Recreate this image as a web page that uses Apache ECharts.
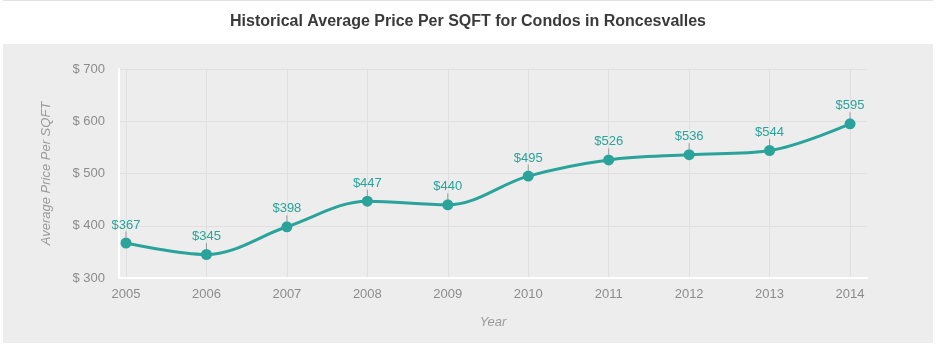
<!DOCTYPE html>
<html>
<head>
<meta charset="utf-8">
<script src="https://cdn.jsdelivr.net/npm/echarts@6/dist/echarts.min.js"></script>
<style>
  html, body { margin: 0; padding: 0; background: #fff; }
  #chart { width: 936px; height: 347px; }
</style>
</head>
<body>
<div id="chart"></div>
<script>
// Average price per square foot, condos in Roncesvalles
const years = [2005, 2006, 2007, 2008, 2009, 2010, 2011, 2012, 2013, 2014];
const prices = [367, 345, 398, 447, 440, 495, 526, 536, 544, 595];
const priceTicks = [300, 400, 500, 600, 700];

const teal = '#2aa39a';
const axisText = '#8c8c8c';
const font = '"Liberation Sans", Arial, Helvetica, sans-serif';

const chart = echarts.init(document.getElementById('chart'), null, { renderer: 'canvas' });

chart.setOption({
  backgroundColor: '#ffffff',
  animation: false,
  title: {
    text: 'Historical Average Price Per SQFT for Condos in Roncesvalles',
    left: 'center',
    top: 9,
    textStyle: { fontFamily: font, fontSize: 16, fontWeight: 'bold', color: '#3a3a3a' }
  },
  graphic: [
    { type: 'rect', z: -10, silent: true, shape: { x: 3, y: 44, width: 930, height: 299 }, style: { fill: '#ededed' } },
    { type: 'rect', z: -10, silent: true, shape: { x: 3, y: 0, width: 930, height: 1 }, style: { fill: '#e2e2e2' } }
  ],
  grid: { left: 119, right: 69, top: 69, bottom: 69 },
  xAxis: {
    type: 'value',
    min: 2004.913,
    max: 2014.211,
    name: 'Year',
    nameLocation: 'middle',
    nameGap: 38,
    nameTextStyle: { fontFamily: font, fontSize: 13, fontStyle: 'italic', color: '#999' },
    axisLine: { show: true, onZero: false, lineStyle: { color: '#ffffff', width: 2 } },
    axisTick: { show: false, customValues: years },
    axisLabel: {
      customValues: years,
      formatter: v => String(v),
      fontFamily: font, fontSize: 13, color: axisText, margin: 10
    },
    splitLine: { show: true, lineStyle: { color: '#e0e0e0', width: 1 } }
  },
  yAxis: {
    type: 'value',
    min: priceTicks[0],
    max: priceTicks[priceTicks.length - 1],
    interval: 100,
    name: 'Average Price Per SQFT',
    nameLocation: 'middle',
    nameGap: 66,
    nameTextStyle: { fontFamily: font, fontSize: 13, fontStyle: 'italic', color: '#999' },
    axisLine: { show: true, lineStyle: { color: '#ffffff', width: 2 } },
    axisTick: { show: false },
    axisLabel: {
      formatter: v => '$ ' + v,
      fontFamily: font, fontSize: 13, color: axisText, margin: 14
    },
    splitLine: { show: true, lineStyle: { color: '#e0e0e0', width: 1 } }
  },
  series: [{
    type: 'line',
    data: years.map((y, i) => [y, prices[i]]),
    smooth: 0.35,
    symbol: 'circle',
    symbolSize: 11,
    itemStyle: { color: teal },
    lineStyle: { color: teal, width: 3 },
    label: {
      show: true,
      position: 'top',
      distance: 0,
      formatter: p => '$' + p.value[1],
      fontFamily: font, fontSize: 13, color: teal
    },
    labelLayout: { dy: -6 },
    labelLine: { show: true, lineStyle: { color: '#9a9a9a', width: 1 } }
  }]
});
</script>
</body>
</html>
